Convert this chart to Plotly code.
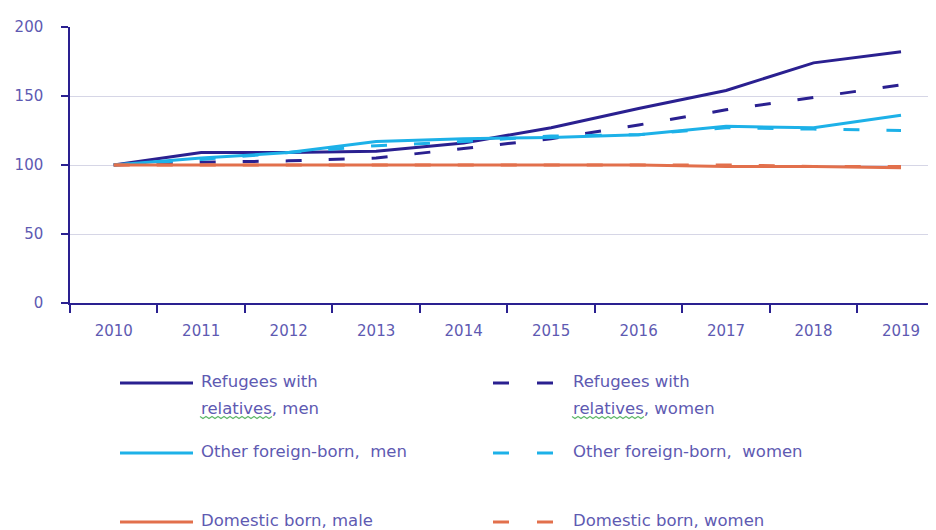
import plotly.graph_objects as go

years = ["2010", "2011", "2012", "2013", "2014", "2015", "2016", "2017", "2018", "2019"]
refugees_men = [100, 109, 109, 110, 116, 127, 141, 154, 174, 182]
refugees_women = [100, 102, 103, 105, 112, 119, 129, 140, 149, 158]
other_men = [100, 105, 109, 117, 119, 120, 122, 128, 127, 136]
other_women = [100, 104, 109, 114, 117, 121, 122, 127, 126, 125]
domestic_male = [100, 100, 100, 100, 100, 100, 100, 99, 99, 98]
domestic_women = [100, 100, 100, 100, 100, 100, 100, 100, 99, 99]

NAVY = "#2A2090"
LIGHT = "#1DB1E8"
ORANGE = "#E2704C"
TEXT = "#5E5AB2"
FONT = "DejaVu Sans"

series = [
    ("Refugees with relatives, men", refugees_men, NAVY, "solid"),
    ("Refugees with relatives, women", refugees_women, NAVY, "16px,27px"),
    ("Other foreign-born, men", other_men, LIGHT, "solid"),
    ("Other foreign-born, women", other_women, LIGHT, "16px,27px"),
    ("Domestic born, male", domestic_male, ORANGE, "solid"),
    ("Domestic born, women", domestic_women, ORANGE, "16px,27px"),
]

# page body has an 8px margin; figure is sized/offset to compensate
OFF = 8
W, H = 936 - OFF, 530 - OFF
L, R, T = 70 - OFF, 0, 27 - OFF
PLOT_BOTTOM = 303 - OFF
B = H - PLOT_BOTTOM
PW, PH = W - L - R, H - T - B

fig = go.Figure()
for name, vals, color, dash in series:
    fig.add_trace(go.Scatter(x=years, y=vals, mode="lines", name=name,
                             line=dict(color=color, width=3, dash=dash),
                             showlegend=False, cliponaxis=False))

# convert screenshot pixel positions to paper coordinates
def px(x):
    return (x - OFF - L) / PW

def py(y):
    return (PLOT_BOTTOM - (y - OFF)) / PH

shapes = []
annotations = []

legend_items = [
    (120, 193, 383, NAVY, "solid", ["Refugees with", "relatives, men"]),
    (493, 553, 383, NAVY, "dash", ["Refugees with", "relatives, women"]),
    (120, 193, 453, LIGHT, "solid", ["Other foreign-born,  men"]),
    (493, 553, 453, LIGHT, "dash", ["Other foreign-born,  women"]),
    (120, 193, 522, ORANGE, "solid", ["Domestic born, male"]),
    (493, 553, 522, ORANGE, "dash", ["Domestic born, women"]),
]
for x0, x1, y, color, kind, texts in legend_items:
    if kind == "solid":
        shapes.append(dict(type="line", xref="paper", yref="paper",
                           x0=px(x0), x1=px(x1), y0=py(y), y1=py(y),
                           line=dict(color=color, width=3)))
    else:
        for a, b in [(x0, x0 + 16), (x1 - 16, x1)]:
            shapes.append(dict(type="line", xref="paper", yref="paper",
                               x0=px(a), x1=px(b), y0=py(y), y1=py(y),
                               line=dict(color=color, width=3)))
    tx = x1 + 6 if kind == "solid" else x1 + 18
    for i, t in enumerate(texts):
        ty = y - 2 + i * 27
        annotations.append(dict(xref="paper", yref="paper", x=px(tx), y=py(ty),
                                xanchor="left", yanchor="middle", showarrow=False,
                                text=t, font=dict(family=FONT, size=16.5, color=TEXT)))
        if t.startswith("relatives"):
            xs = tx + 1
            pts = []
            k = 0
            while xs < tx + 76:
                pts.append((xs, ty + 9 + (1.5 if k % 2 else -0.5)))
                xs += 3
                k += 1
            path = "M " + " L ".join(f"{px(a):.5f},{py(b):.5f}" for a, b in pts)
            shapes.append(dict(type="path", xref="paper", yref="paper", path=path,
                               line=dict(color="#5FB86A", width=1.2)))

fig.update_layout(
    width=W, height=H,
    margin=dict(l=L, r=R, t=T, b=B, pad=0, autoexpand=False),
    paper_bgcolor="white", plot_bgcolor="white",
    font=dict(family=FONT, size=15, color=TEXT),
    shapes=shapes, annotations=annotations,
    showlegend=False,
)
fig.update_xaxes(type="category", range=[-0.5, 9.4], tickson="boundaries",
                 ticks="outside", ticklen=8, tickwidth=1.5, tickcolor=NAVY,
                 showline=True, linecolor=NAVY, linewidth=1.5, showgrid=False,
                 automargin=False,
                 ticklabelstandoff=13, tickfont=dict(family=FONT, size=15, color=TEXT))
fig.update_yaxes(range=[0, 200], tickvals=[0, 50, 100, 150, 200],
                 ticks="outside", ticklen=7, tickwidth=1.5, tickcolor=NAVY,
                 showline=True, linecolor=NAVY, linewidth=1.5,
                 showgrid=True, gridcolor="#D6D6E6", gridwidth=1, zeroline=False,
                 automargin=False,
                 ticklabelstandoff=15, tickfont=dict(family=FONT, size=15, color=TEXT))

fig.write_html("out.html")
